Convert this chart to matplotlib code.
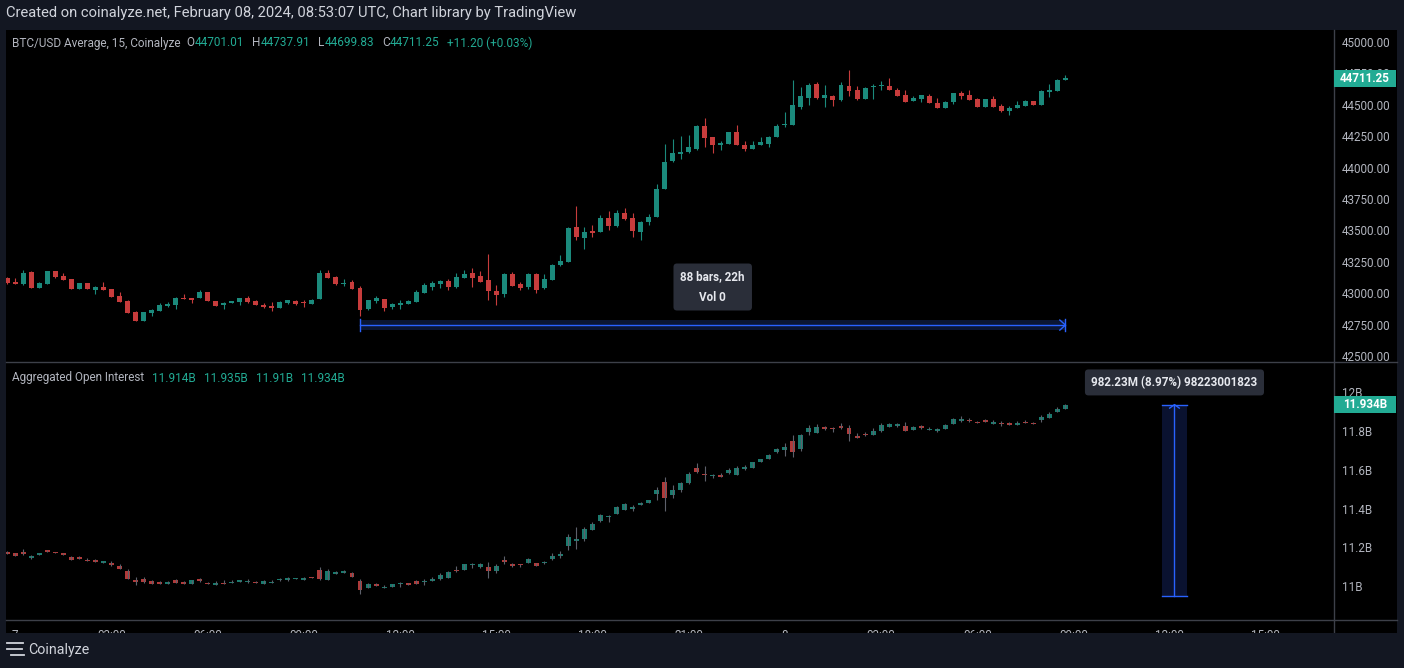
import numpy as np
import matplotlib
matplotlib.use("Agg")
import matplotlib.pyplot as plt
from matplotlib.patches import Rectangle
from matplotlib.lines import Line2D

# BTC/USD average, 15 min bars, first bar = Feb 6 23:45 UTC
price_open = [43121, 43090, 43073, 43169, 43044, 43076, 43177, 43137, 43113, 43036,
              43081, 43028, 43050, 43034, 42978, 42938, 42851, 42782, 42843, 42861,
              42901, 42906, 42962, 42962, 42965, 43010, 42938, 42904, 42920, 42933,
              42962, 42938, 42906, 42898, 42885, 42922, 42938, 42925, 42917, 42954,
              43164, 43127, 43073, 43090, 43042, 42875, 42939, 42954, 42893, 42909,
              42917, 42933, 43005, 43053, 43074, 43098, 43050, 43124, 43161, 43138,
              43106, 43018, 42997, 43153, 43074, 43050, 43153, 43042, 43106, 43225,
              43249, 43528, 43440, 43496, 43488, 43599, 43535, 43639, 43599, 43488,
              43567, 43607, 43830, 44050, 44109, 44124, 44148, 44331, 44244, 44183,
              44191, 44284, 44180, 44151, 44183, 44191, 44244, 44342, 44342, 44483,
              44557, 44666, 44557, 44570, 44538, 44650, 44618, 44549, 44639, 44650,
              44650, 44618, 44578, 44530, 44546, 44570, 44514, 44475, 44522, 44594,
              44578, 44546, 44483, 44546, 44491, 44451, 44475, 44491, 44530, 44498,
              44605, 44610, 44701.01]
price_high = [43127, 43121, 43185, 43177, 43090, 43177, 43177, 43158, 43113, 43081,
              43081, 43060, 43090, 43034, 43010, 42946, 42859, 42851, 42877, 42920,
              42930, 42973, 42994, 42962, 43026, 43010, 42938, 42933, 42938, 42962,
              42978, 42946, 42922, 42930, 42938, 42943, 42946, 42946, 42954, 43185,
              43185, 43137, 43113, 43103, 43058, 42946, 42978, 42954, 42925, 42946,
              42949, 43026, 43079, 43095, 43106, 43111, 43161, 43185, 43201, 43175,
              43313, 43066, 43164, 43169, 43090, 43161, 43161, 43153, 43233, 43305,
              43525, 43695, 43528, 43543, 43623, 43655, 43663, 43679, 43639, 43575,
              43631, 43870, 44188, 44228, 44252, 44260, 44339, 44395, 44244, 44209,
              44284, 44339, 44212, 44212, 44244, 44252, 44347, 44443, 44697, 44642,
              44674, 44682, 44658, 44578, 44682, 44777, 44650, 44642, 44666, 44690,
              44713, 44634, 44618, 44570, 44578, 44586, 44554, 44530, 44594, 44610,
              44618, 44554, 44546, 44570, 44506, 44491, 44530, 44538, 44530, 44618,
              44666, 44705, 44737.91]
price_low = [43076, 43076, 43068, 43044, 43044, 43076, 43124, 43108, 43036, 43036,
             43036, 42997, 43028, 42973, 42933, 42845, 42782, 42782, 42822, 42861,
             42888, 42874, 42957, 42925, 42965, 42941, 42901, 42877, 42920, 42909,
             42922, 42906, 42885, 42859, 42885, 42917, 42906, 42893, 42917, 42952,
             43124, 43068, 43060, 43036, 42819, 42867, 42925, 42862, 42877, 42872,
             42917, 42933, 43005, 43029, 43045, 43026, 43045, 43124, 43053, 43092,
             42949, 42909, 42973, 43061, 43026, 43034, 43005, 43034, 43106, 43220,
             43249, 43424, 43352, 43448, 43488, 43504, 43528, 43583, 43448, 43424,
             43543, 43607, 43830, 44045, 44069, 44116, 44140, 44164, 44116, 44143,
             44191, 44183, 44135, 44151, 44183, 44167, 44244, 44326, 44342, 44467,
             44501, 44546, 44483, 44491, 44530, 44570, 44538, 44549, 44546, 44618,
             44618, 44573, 44522, 44530, 44525, 44514, 44475, 44475, 44509, 44546,
             44538, 44483, 44483, 44483, 44443, 44419, 44475, 44491, 44498, 44498,
             44562, 44610, 44699.83]
price_close = [43084, 43076, 43158, 43044, 43081, 43177, 43132, 43108, 43036, 43081,
               43036, 43050, 43028, 42973, 42933, 42845, 42782, 42851, 42867, 42906,
               42914, 42959, 42957, 42946, 43010, 42941, 42901, 42920, 42938, 42962,
               42930, 42906, 42890, 42885, 42933, 42943, 42914, 42922, 42946, 43164,
               43124, 43076, 43079, 43036, 42867, 42946, 42962, 42885, 42917, 42925,
               42941, 43010, 43066, 43082, 43098, 43053, 43130, 43153, 43124, 43092,
               43021, 42989, 43153, 43061, 43045, 43153, 43026, 43114, 43228, 43257,
               43520, 43451, 43488, 43480, 43599, 43535, 43639, 43591, 43496, 43567,
               43607, 43830, 44045, 44116, 44124, 44164, 44331, 44236, 44180, 44199,
               44284, 44183, 44151, 44180, 44204, 44244, 44331, 44350, 44498, 44570,
               44658, 44554, 44578, 44541, 44658, 44610, 44546, 44634, 44642, 44652,
               44618, 44573, 44522, 44554, 44578, 44514, 44475, 44522, 44594, 44570,
               44538, 44483, 44546, 44483, 44451, 44475, 44498, 44530, 44498, 44610,
               44618, 44700.05, 44711.25]

# aggregated open interest, billions
oi_open = [11.175, 11.169, 11.176, 11.147, 11.163, 11.187, 11.176, 11.171, 11.151, 11.151,
           11.137, 11.137, 11.122, 11.120, 11.104, 11.079, 11.032, 11.039, 11.027, 11.022,
           11.012, 11.032, 11.022, 11.012, 11.039, 11.017, 11.007, 11.017, 11.019, 11.022,
           11.022, 11.022, 11.012, 11.019, 11.031, 11.034, 11.036, 11.034, 11.048, 11.084,
           11.034, 11.065, 11.070, 11.068, 11.027, 10.991, 11.012, 10.993, 10.998, 11.010,
           11.017, 11.027, 11.024, 11.027, 11.038, 11.043, 11.084, 11.084, 11.108, 11.099,
           11.099, 11.079, 11.135, 11.115, 11.111, 11.120, 11.120, 11.122, 11.140, 11.156,
           11.207, 11.233, 11.243, 11.290, 11.336, 11.355, 11.372, 11.392, 11.398, 11.418,
           11.428, 11.475, 11.536, 11.469, 11.495, 11.531, 11.608, 11.577, 11.565, 11.572,
           11.583, 11.572, 11.605, 11.608, 11.639, 11.655, 11.691, 11.701, 11.747, 11.706,
           11.793, 11.788, 11.819, 11.812, 11.824, 11.814, 11.773, 11.783, 11.778, 11.799,
           11.819, 11.824, 11.824, 11.804, 11.824, 11.805, 11.800, 11.809, 11.835, 11.850,
           11.857, 11.845, 11.857, 11.836, 11.840, 11.840, 11.831, 11.845, 11.840, 11.855,
           11.865, 11.896, 11.914]
oi_high = [11.182, 11.169, 11.190, 11.161, 11.171, 11.187, 11.176, 11.171, 11.156, 11.156,
           11.144, 11.140, 11.130, 11.128, 11.113, 11.089, 11.046, 11.048, 11.032, 11.027,
           11.027, 11.038, 11.027, 11.032, 11.044, 11.022, 11.027, 11.032, 11.032, 11.032,
           11.036, 11.027, 11.032, 11.032, 11.044, 11.050, 11.044, 11.050, 11.048, 11.099,
           11.089, 11.079, 11.084, 11.074, 11.038, 11.017, 11.017, 11.007, 11.012, 11.024,
           11.017, 11.032, 11.038, 11.048, 11.068, 11.079, 11.104, 11.115, 11.122, 11.120,
           11.125, 11.115, 11.156, 11.120, 11.117, 11.146, 11.120, 11.130, 11.171, 11.182,
           11.269, 11.305, 11.305, 11.331, 11.372, 11.367, 11.413, 11.428, 11.418, 11.433,
           11.444, 11.511, 11.562, 11.521, 11.536, 11.588, 11.634, 11.619, 11.577, 11.583,
           11.608, 11.619, 11.622, 11.641, 11.655, 11.680, 11.711, 11.737, 11.778, 11.783,
           11.829, 11.835, 11.824, 11.817, 11.840, 11.829, 11.788, 11.792, 11.814, 11.840,
           11.840, 11.840, 11.845, 11.824, 11.829, 11.819, 11.816, 11.835, 11.865, 11.876,
           11.865, 11.850, 11.862, 11.855, 11.850, 11.845, 11.850, 11.855, 11.845, 11.881,
           11.896, 11.922, 11.935]
oi_low = [11.168, 11.156, 11.163, 11.140, 11.163, 11.178, 11.173, 11.163, 11.134, 11.142,
          11.132, 11.127, 11.122, 11.106, 11.091, 11.039, 11.007, 11.017, 11.012, 11.012,
          11.012, 11.017, 11.012, 11.012, 11.022, 11.012, 11.007, 11.012, 11.019, 11.022,
          11.017, 11.019, 11.012, 11.019, 11.026, 11.029, 11.036, 11.034, 11.044, 11.034,
          11.034, 11.065, 11.070, 11.050, 10.962, 10.991, 11.003, 10.993, 10.998, 10.998,
          11.008, 11.012, 11.008, 11.027, 11.032, 11.043, 11.074, 11.084, 11.094, 11.094,
          11.043, 11.068, 11.115, 11.099, 11.101, 11.120, 11.104, 11.117, 11.135, 11.146,
          11.187, 11.192, 11.233, 11.290, 11.331, 11.331, 11.372, 11.392, 11.387, 11.418,
          11.428, 11.444, 11.387, 11.454, 11.485, 11.526, 11.583, 11.541, 11.557, 11.564,
          11.577, 11.572, 11.600, 11.608, 11.639, 11.655, 11.685, 11.670, 11.665, 11.696,
          11.778, 11.788, 11.804, 11.795, 11.809, 11.747, 11.762, 11.773, 11.778, 11.793,
          11.819, 11.819, 11.799, 11.804, 11.809, 11.805, 11.795, 11.809, 11.835, 11.845,
          11.845, 11.841, 11.846, 11.836, 11.826, 11.831, 11.831, 11.841, 11.836, 11.845,
          11.865, 11.896, 11.910]
oi_close = [11.168, 11.156, 11.166, 11.156, 11.171, 11.178, 11.173, 11.163, 11.137, 11.142,
            11.132, 11.127, 11.130, 11.110, 11.091, 11.039, 11.024, 11.022, 11.012, 11.012,
            11.022, 11.017, 11.012, 11.032, 11.027, 11.012, 11.017, 11.012, 11.022, 11.032,
            11.027, 11.019, 11.027, 11.022, 11.034, 11.044, 11.039, 11.044, 11.044, 11.039,
            11.079, 11.074, 11.079, 11.050, 10.983, 11.012, 11.003, 10.997, 11.012, 11.014,
            11.008, 11.012, 11.029, 11.038, 11.058, 11.074, 11.081, 11.115, 11.111, 11.115,
            11.079, 11.104, 11.125, 11.104, 11.108, 11.140, 11.104, 11.125, 11.156, 11.166,
            11.254, 11.243, 11.295, 11.320, 11.367, 11.360, 11.408, 11.423, 11.408, 11.428,
            11.444, 11.495, 11.454, 11.495, 11.531, 11.577, 11.588, 11.574, 11.569, 11.564,
            11.598, 11.608, 11.615, 11.639, 11.655, 11.675, 11.706, 11.716, 11.691, 11.778,
            11.814, 11.819, 11.809, 11.807, 11.814, 11.783, 11.762, 11.780, 11.799, 11.829,
            11.835, 11.835, 11.799, 11.819, 11.814, 11.809, 11.811, 11.829, 11.860, 11.860,
            11.852, 11.841, 11.846, 11.845, 11.835, 11.831, 11.840, 11.841, 11.836, 11.871,
            11.886, 11.912, 11.934]

# time axis: bar 1 is Feb 7 00:00, one label every 12 bars (3h)
time_ticks = [1, 13, 25, 37, 49, 61, 73, 85, 97, 109, 121, 133, 145, 157]
time_labels = ["7", "03:00", "06:00", "09:00", "12:00", "15:00", "18:00", "21:00",
               "8", "03:00", "06:00", "09:00", "12:00", "15:00"]
price_ticks = np.arange(42500, 45001, 250)
oi_ticks = [11.0, 11.2, 11.4, 11.6, 11.8, 12.0]

# drawing tools on the chart
range_start, range_end = 44, 132   # date range tool (bar indices)
range_level = 42747
oi_measure_x = 145.6
oi_measure_low = 10.95177

W, H = 1404, 668
BG = "#131722"
TXT = "#b2b5be"
TEAL = "#22ab94"
BLUE = "#2962ff"
LINE = "#3d4049"
FOOT = 633   # top of the footer bar, px

plt.rcParams["font.family"] = ["Roboto", "DejaVu Sans"]

fig = plt.figure(figsize=(W / 100, H / 100), dpi=100, facecolor=BG)


def fx(px):
    return px / W


def fy(py):
    return 1 - py / H


fig.add_artist(Rectangle((fx(6), fy(FOOT)), fx(1397) - fx(6), fy(30) - fy(FOOT),
                         transform=fig.transFigure, facecolor="black", edgecolor="none", zorder=-5))

ax1 = fig.add_axes([fx(6), fy(362), fx(1334) - fx(6), fy(30) - fy(362)])
ax2 = fig.add_axes([fx(6), fy(620), fx(1334) - fx(6), fy(362) - fy(620)], sharex=ax1)


def candles(ax, o, h, l, c, up, down, wick_up, wick_down, min_h):
    o, h, l, c = (np.asarray(v, dtype=float) for v in (o, h, l, c))
    x = np.arange(len(c))
    rising = c > o
    ax.vlines(x, l, h, colors=np.where(rising, wick_up, wick_down), linewidth=0.8)
    ax.bar(x, np.maximum(np.abs(c - o), min_h), bottom=np.minimum(o, c), width=0.62,
           color=np.where(rising, up, down), linewidth=0)


candles(ax1, price_open, price_high, price_low, price_close,
        "#1b8a7c", "#c73c3c", "#1b8a7c", "#c73c3c", 8)
candles(ax2, oi_open, oi_high, oi_low, oi_close,
        "#1a7a6e", "#b03a3a", "#5d606b", "#5d606b", 0.005)

for ax in (ax1, ax2):
    ax.set_facecolor("black")
    for s in ax.spines.values():
        s.set_visible(False)
    ax.yaxis.tick_right()
    ax.tick_params(axis="y", length=0, pad=5.8, labelsize=8.4, labelcolor=TXT)
    ax.tick_params(axis="x", length=0, pad=6.5, labelsize=8.4, labelcolor=TXT)

ax1.set_xlim(-0.16, 165.5)
ax1.set_ylim(42453, 45096)
ax2.set_ylim(10.827, 12.153)
ax1.set_yticks(price_ticks)
ax1.set_yticklabels([f"{v:.2f}" for v in price_ticks])
ax1.tick_params(axis="x", labelbottom=False)
ax2.set_yticks(oi_ticks)
ax2.set_yticklabels([f"{v:g}B" for v in oi_ticks])
ax2.set_xticks(time_ticks)
ax2.set_xticklabels(time_labels)

# date range tool
ax1.add_patch(Rectangle((range_start, range_level - 40), range_end - range_start, 80,
                        facecolor="#0b1633", edgecolor="none", zorder=0.5))
ax1.plot([range_start, range_end], [range_level, range_level], color=BLUE, lw=1)
ax1.plot([range_start, range_start], [range_level - 50, range_level + 50], color=BLUE, lw=1)
ax1.plot([range_end, range_end], [range_level - 50, range_level + 50], color=BLUE, lw=1)
ax1.plot([range_end - 0.7, range_end, range_end - 0.7],
         [range_level + 40, range_level, range_level - 40], color=BLUE, lw=1)
n_bars = range_end - range_start
ax1.text((range_start + range_end) / 2, range_level + 303,
         f"{n_bars} bars, {n_bars * 15 // 60}h\nVol 0", ha="center", va="center",
         color="#e6e8ee", fontsize=8.4, fontweight="bold", linespacing=1.7,
         bbox=dict(boxstyle="round,pad=0.6,rounding_size=0.3", fc="#2a2e39", ec="none"))

# price range tool on open interest
oi_top = oi_close[-1]
ax2.add_patch(Rectangle((oi_measure_x - 1.5, oi_measure_low), 3.1, oi_top - oi_measure_low,
                        facecolor="#0a1230", edgecolor="none", zorder=0.5))
ax2.plot([oi_measure_x, oi_measure_x], [oi_measure_low, oi_top], color=BLUE, lw=1)
ax2.plot([oi_measure_x - 1.5, oi_measure_x + 1.6], [oi_top, oi_top], color=BLUE, lw=1)
ax2.plot([oi_measure_x - 1.5, oi_measure_x + 1.6], [oi_measure_low, oi_measure_low], color=BLUE, lw=1)
ax2.plot([oi_measure_x - 0.6, oi_measure_x, oi_measure_x + 0.6],
         [oi_top - 0.018, oi_top, oi_top - 0.018], color=BLUE, lw=1)
ax2.text(oi_measure_x, oi_top + 0.114, "982.23M (8.97%) 98223001823", ha="center", va="center",
         color="#e6e8ee", fontsize=8.4, fontweight="bold",
         bbox=dict(boxstyle="round,pad=0.55,rounding_size=0.3", fc="#2a2e39", ec="none"))

# separators and axis lines
for coords in ([(1334, 1334), (30, FOOT)], [(6, 1397), (362, 362)], [(6, 1397), (620, 620)]):
    fig.add_artist(Line2D([fx(p) for p in coords[0]], [fy(p) for p in coords[1]],
                          color=LINE, lw=1, transform=fig.transFigure, zorder=3))


# last value labels on the scales
def last_label(ax, value, text):
    py = ax.transData.transform((0, value))[1]
    fig.add_artist(Rectangle((fx(1334), (py - 8.5) / H), fx(62), 17 / H,
                             transform=fig.transFigure, facecolor=TEAL, edgecolor="none", zorder=4))
    fig.text(fx(1365), py / H, text, ha="center", va="center", color="white",
             fontsize=8.4, fontweight="bold", zorder=5)


last_label(ax1, price_close[-1], f"{price_close[-1]:.2f}")
last_label(ax2, oi_close[-1], f"{oi_close[-1]:.3f}".rstrip("0") + "B")

# header, legends, footer
fig.text(fx(6), fy(13), "Created on coinalyze.net, February 08, 2024, 08:53:07 UTC, Chart library by TradingView",
         color="#d1d4dc", fontsize=10.6, va="center", ha="left")

renderer = fig.canvas.get_renderer()


def text_row(x, y, parts, size=8.5):
    for s, color, gap in parts:
        t = fig.text(fx(x), fy(y), s, color=color, fontsize=size, va="center", ha="left")
        x += t.get_window_extent(renderer).width + gap


chg = price_close[-1] - price_close[-2]
text_row(12, 43, [("BTC/USD Average, 15, Coinalyze", TXT, 6),
                  ("O", TXT, 0), (f"{price_open[-1]:.2f}", TEAL, 8),
                  ("H", TXT, 0), (f"{price_high[-1]:.2f}", TEAL, 8),
                  ("L", TXT, 0), (f"{price_low[-1]:.2f}", TEAL, 8),
                  ("C", TXT, 0), (f"{price_close[-1]:.2f}", TEAL, 8),
                  (f"{chg:+.2f} ({chg / price_close[-2] * 100:+.2f}%)", TEAL, 0)])


def oi_fmt(v):
    return f"{v:.3f}".rstrip("0") + "B"


text_row(12, 378, [("Aggregated Open Interest", TXT, 8),
                   (oi_fmt(oi_open[-1]), TEAL, 8), (oi_fmt(oi_high[-1]), TEAL, 8),
                   (oi_fmt(oi_low[-1]), TEAL, 8), (oi_fmt(oi_close[-1]), TEAL, 0)])

fig.add_artist(Rectangle((0, 0), 1, fy(FOOT), transform=fig.transFigure,
                         facecolor=BG, edgecolor="none", zorder=10))
for y0, x0, x1 in ((643, 7, 23), (649, 7, 22), (655, 11, 24)):
    fig.add_artist(Line2D([fx(x0), fx(x1)], [fy(y0), fy(y0)], color="#d1d4dc", lw=1.3,
                          transform=fig.transFigure, zorder=11))
fig.text(fx(28), fy(650), "Coinalyze", color="#d1d4dc", fontsize=10.3, va="center", ha="left", zorder=11)

fig.savefig("out.png", dpi=100, facecolor=BG)
